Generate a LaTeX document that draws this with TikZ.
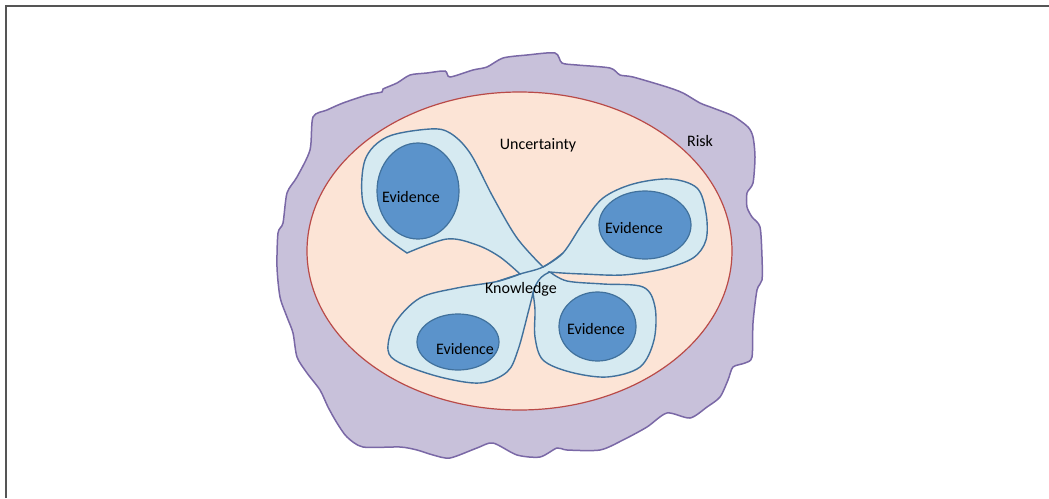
\documentclass[tikz,border=0pt]{standalone}
\usepackage{fontspec}
\setmainfont{Carlito}
\definecolor{riskfill}{RGB}{200,193,218}
\definecolor{riskline}{RGB}{122,104,166}
\definecolor{uncfill}{RGB}{252,228,214}
\definecolor{uncline}{RGB}{185,74,72}
\definecolor{knowfill}{RGB}{214,234,241}
\definecolor{knowline}{RGB}{65,113,156}
\definecolor{evfill}{RGB}{91,147,203}
\definecolor{frameline}{RGB}{85,85,85}
\tikzset{
  lbl/.style={font=\fontsize{8}{9.5}\selectfont, text=black, inner sep=0pt},
  evid/.style={fill=evfill, draw=knowline, line width=0.6pt},
  kline/.style={draw=knowline, line width=0.7pt},
}
\begin{document}
\begin{tikzpicture}[x=0.5pt,y=-0.5pt]
\useasboundingbox (0,0) rectangle (1049,498);
% frame
\draw[frameline, line width=1pt] (5.5,498) -- (5.5,5.5) -- (1049,5.5);
% risk blob
\draw[fill=riskfill, draw=riskline, line width=0.75pt] plot[smooth cycle, tension=0.45] coordinates {
 (313,117) (327,110) (343,103) (367,95) (382,92) (383,89) (397,83) (410,75) (427,73) (445,71) (450,77)
 (473,70) (487,67) (503,58) (527,55) (555,53) (562,63) (577,65) (610,68) (620,75) (633,77)
 (667,87) (683,93) (700,103) (713,108) (733,116) (748,127) (753,137) (755,157) (753,183)
 (747,193) (747,207) (752,217) (760,227) (762,257) (762,280) (757,290) (753,323) (752,357)
 (745,363) (733,367) (728,380) (720,397) (707,407) (690,418) (667,413) (647,427) (623,440)
 (600,450) (567,450) (557,448) (540,457) (517,455) (493,443) (477,448) (450,458) (433,455)
 (417,450) (400,447) (363,447) (347,437) (337,423) (328,407) (320,390) (307,373) (297,357)
 (293,333) (287,317) (280,297) (277,267) (278,233) (283,223) (287,193) (297,177) (310,150)
};
% uncertainty ellipse
\draw[fill=uncfill, draw=uncline, line width=0.6pt] (519.5,251) ellipse [x radius=212.5, y radius=159];
% knowledge shape (union outline)
\path[fill=knowfill, kline]
 plot[smooth, tension=0.55] coordinates {(520,274) (500,257) (477,245) (447,239) (407,253)}
 -- plot[smooth, tension=0.55] coordinates {(407,253) (380,232) (363,203) (365,160) (387,137) (430,129) (450,133) (470,153) (493,197) (517,238) (543,267)}
 -- plot[smooth, tension=0.55] coordinates {(543,267) (563,253) (583,223) (603,198) (633,184) (670,179) (697,188) (706,213) (706,240) (693,258) (663,269) (623,275) (583,274) (562,273) (550,272)}
 -- plot[smooth, tension=0.55] coordinates {(550,272) (567,281) (603,284) (643,287) (655,307) (654,340) (640,367) (607,377) (570,372) (543,360) (535,337) (535,310) (533,293)}
 -- plot[smooth, tension=0.55] coordinates {(533,293) (528,313) (518,350) (507,372) (480,383) (440,377) (400,363) (388,350) (395,323) (420,298) (457,288) (497,281.5) (520,274)}
 -- cycle;
% interior strokes where lobes cross
\draw[kline] plot[smooth, tension=0.55] coordinates {(497,281.5) (520,274) (543,267) (563,253)};
\draw[kline] (533,293) .. controls (536,281) and (542,275) .. (550,272);
% evidence
\draw[evid] (418,191) ellipse [x radius=41, y radius=48];
\draw[evid] (645,225) ellipse [x radius=46, y radius=34];
\draw[evid] (597.5,326.5) ellipse [x radius=38.5, y radius=34.5];
\draw[evid] (458,342) ellipse [x radius=41, y radius=28];
% labels
\node[lbl] (unc) at (538,145) {Uncertainty};
\node[lbl] (risk) at (700,141) {Risk};
\node[lbl] (know) at (521,289) {Knowledge};
\node[lbl] (ev1) at (411,197) {Evidence};
\node[lbl] (ev2) at (634,228) {Evidence};
\node[lbl] (ev3) at (596,329) {Evidence};
\node[lbl] (ev4) at (465,349) {Evidence};
\end{tikzpicture}
\end{document}
